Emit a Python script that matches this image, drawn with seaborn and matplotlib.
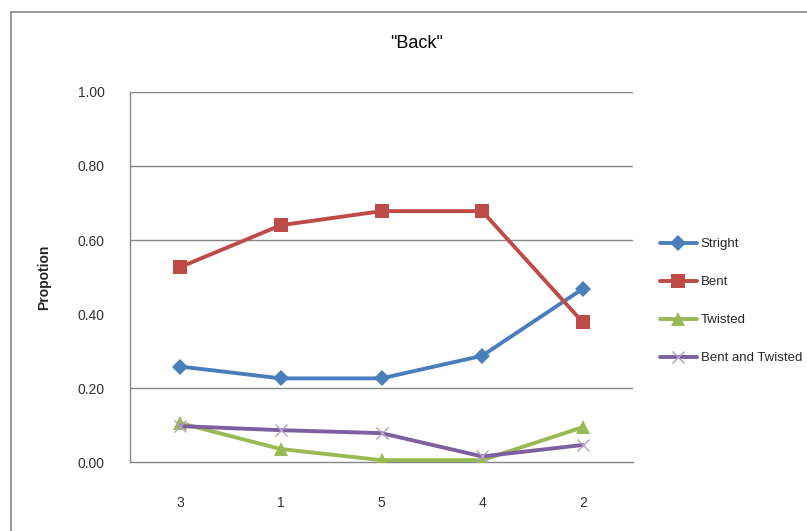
import matplotlib
matplotlib.use("Agg")
import matplotlib.pyplot as plt
import seaborn as sns
import pandas as pd
from matplotlib.patches import Rectangle

# Categories along the x axis, in plotted order
categories = ["3", "1", "5", "4", "2"]

# Proportion per category for each posture
stright = [0.258, 0.226, 0.226, 0.287, 0.468]
bent = [0.527, 0.640, 0.678, 0.678, 0.378]
twisted = [0.105, 0.035, 0.005, 0.005, 0.094]
bent_and_twisted = [0.097, 0.086, 0.078, 0.015, 0.046]

series_names = ["Stright", "Bent", "Twisted", "Bent and Twisted"]
y_ticks = [0.0, 0.2, 0.4, 0.6, 0.8, 1.0]
grid_values = [0.2, 0.6, 0.8, 1.0]

df = pd.DataFrame({
    "cat": categories * 4,
    "value": stright + bent + twisted + bent_and_twisted,
    "series": [n for n in series_names for _ in categories],
})

sns.set_theme(style="white")
plt.rcParams["font.family"] = ["Liberation Sans", "DejaVu Sans"]

fig = plt.figure(figsize=(8.07, 5.31), dpi=100)
ax = fig.add_axes([130 / 807, 69 / 531, 503 / 807, 370 / 531])

grey = "#868686"
styles = {
    "Stright": dict(color="#4A7EBB", marker="D", ms=8, mew=0),
    "Bent": dict(color="#BE4B48", marker="s", ms=10, mew=0),
    "Twisted": dict(color="#98B954", marker="^", ms=10, mew=0),
    "Bent and Twisted": dict(color="#7D60A0", marker="x", ms=9, mew=1.0,
                             mec="#B3A2C7"),
}

for name in series_names:
    sub = df[df["series"] == name]
    st = styles[name]
    sns.lineplot(data=sub, x="cat", y="value", ax=ax, sort=False,
                 color=st["color"], marker=st["marker"], markersize=st["ms"],
                 markeredgewidth=st["mew"],
                 markeredgecolor=st.get("mec", st["color"]),
                 linewidth=2.8, label=name, zorder=3)

for g in grid_values:
    ax.axhline(g, color=grey, lw=1.0, zorder=1)

ax.set_xlim(-0.5, 4.5)
ax.set_ylim(0, 1.0)
ax.set_yticks(y_ticks)
ax.set_yticklabels([f"{v:.2f}" for v in y_ticks])
ax.tick_params(axis="y", length=0, pad=18, labelsize=10, labelcolor="#303030")
ax.tick_params(axis="x", length=0, pad=24.5, labelsize=10, labelcolor="#303030")
ax.set_xlabel("")
ax.set_ylabel("Propotion", fontsize=10, fontweight="bold", labelpad=19)

for side in ["top", "right"]:
    ax.spines[side].set_visible(False)
for side in ["left", "bottom"]:
    ax.spines[side].set_color(grey)
    ax.spines[side].set_linewidth(1.0)

leg = ax.legend(loc="upper left", bbox_to_anchor=(660 / 807, 1 - 238 / 531),
                bbox_transform=fig.transFigure, frameon=False, fontsize=9.5,
                labelspacing=1.95, handlelength=2.8, handletextpad=0.3,
                borderpad=0, borderaxespad=0)

fig.text(417 / 807, 1 - 44 / 531, '"Back"', ha="center", va="center",
         fontsize=13, color="black")

# Outer chart frame
fig.patches.append(Rectangle((11 / 807, -0.1), 1.2, 1 - 12 / 531 + 0.1,
                             transform=fig.transFigure, fill=False,
                             edgecolor=grey, lw=1.2, zorder=0))

fig.savefig("out.png", dpi=100)
